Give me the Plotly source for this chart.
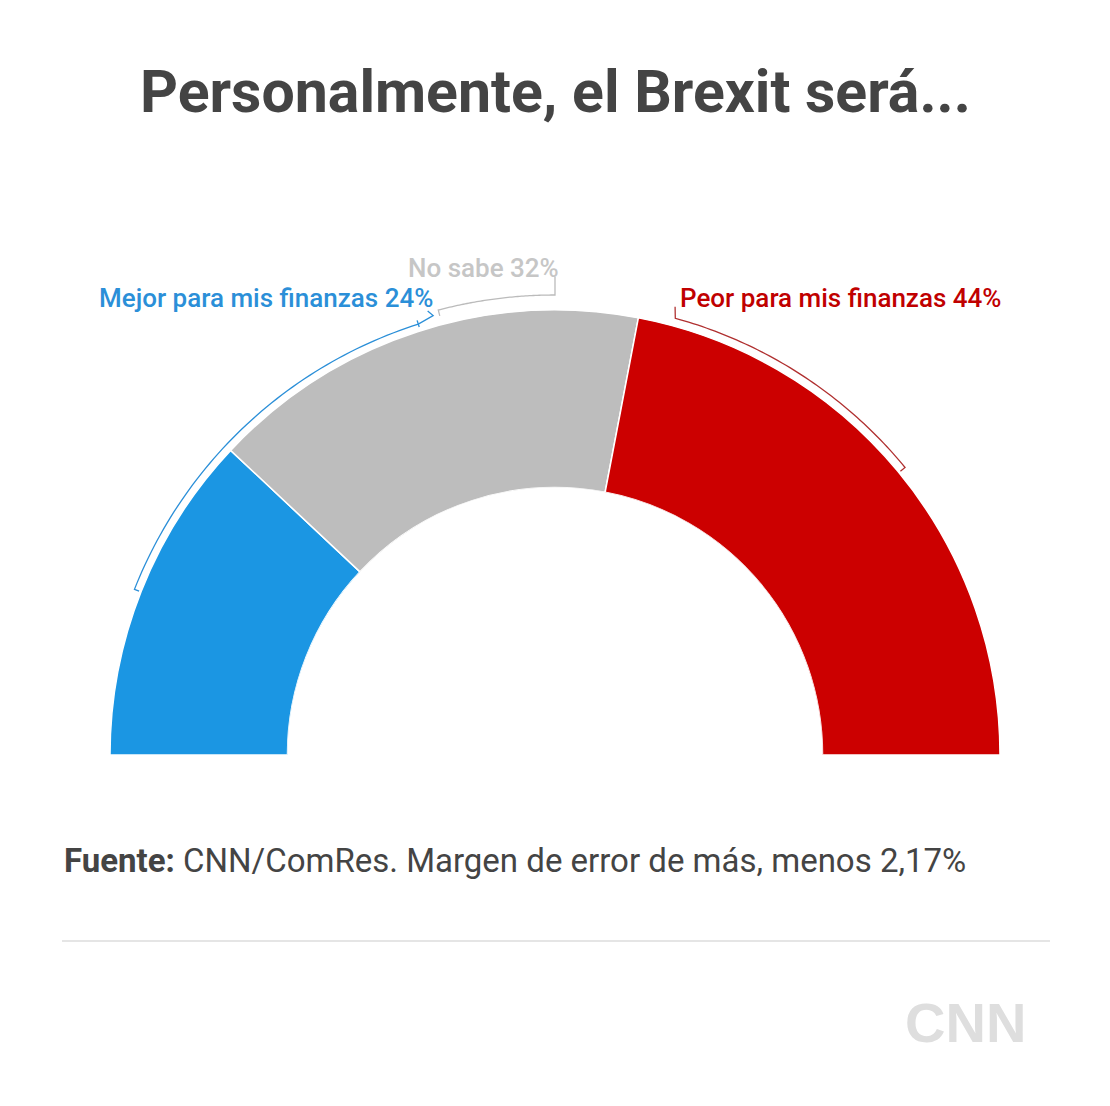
import plotly.graph_objects as go

# ---- data ----
categories = ["Mejor para mis finanzas", "No sabe", "Peor para mis finanzas"]
values = [24, 32, 44]
colors = ["#1b96e3", "#bdbdbd", "#cc0000"]
label_colors = ["#2b8fd8", "#c6c6c6", "#c00000"]
title_text = "Personalmente, el Brexit será..."
source_bold = "Fuente:"
source_text = "CNN/ComRes. Margen de error de más, menos 2,17%"

OFF = 8                      # page body margin
W, H = 1110 - OFF, 1106 - OFF
CX, CY = 555 - OFF, 755 - OFF   # centre of the half donut (px)
R_IN, R_OUT = 267.5, 445        # bar inner/outer radius (px)
R_PLOT = 485                    # polar area radius (room for brackets)
HOLE = R_IN / R_PLOT
RMAX = (R_PLOT - R_IN) / (R_OUT - R_IN)

def px_to_r(px):
    return (px - R_IN) / (R_OUT - R_IN)

total = sum(values)
deg = [v / total * 180 for v in values]
starts = [sum(deg[:i]) for i in range(len(deg))]
centers = [s + d / 2 for s, d in zip(starts, deg)]

fig = go.Figure()
fig.add_trace(go.Barpolar(
    r=[1] * len(values), theta=centers, width=deg,
    marker=dict(color=colors, line=dict(color="white", width=1.5)),
    hoverinfo="skip", showlegend=False,
))

def bracket(pts, color):
    fig.add_trace(go.Scatterpolar(
        r=[px_to_r(p[0]) for p in pts], theta=[p[1] for p in pts],
        mode="lines", line=dict(color=color, width=1.3),
        hoverinfo="skip", showlegend=False,
    ))

def arc(r_px, a0, a1, n=60):
    return [(r_px, a0 + (a1 - a0) * i / n) for i in range(n + 1)]

# blue
bracket([(447, 21.5)] + arc(452, 21.5, 72.4) + [(456, 74.5), (462, 74.0)], label_colors[0])
bracket([(456, 72.4), (449, 72.4)], label_colors[0])
# gray
bracket([(454, 75.3)] + arc(460, 75.3, 90) + [(478, 90)], "#bbbbbb")
# red
bracket([(464, 105.0), (453, 105.4)] + arc(453, 105.4, 140.6) + [(447, 140.6)], "#b03030")

fig.update_layout(
    width=W, height=H,
    margin=dict(l=0, r=0, t=0, b=0),
    paper_bgcolor="white",
    polar=dict(
        domain=dict(x=[(CX - R_PLOT) / W, (CX + R_PLOT) / W],
                    y=[(H - CY) / H, (H - CY + R_PLOT) / H]),
        sector=[0, 180], hole=HOLE, bgcolor="white",
        radialaxis=dict(visible=False, range=[0, RMAX]),
        angularaxis=dict(visible=False, direction="clockwise", rotation=180),
    ),
    font=dict(family="Roboto"),
)

def px(xpx):
    return (xpx - OFF) / W

def py(ypx):
    return 1 - (ypx - OFF) / H

ann = [
    dict(text=f"<b>{title_text}</b>", x=px(555), y=py(92), xanchor="center",
         font=dict(size=59, color="#444444")),
    dict(text=f"{categories[0]} {values[0]}%", x=px(97), y=py(298), xanchor="left",
         font=dict(size=26, color=label_colors[0], weight=500)),
    dict(text=f"{categories[1]} {values[1]}%", x=px(406), y=py(268), xanchor="left",
         font=dict(size=26, color=label_colors[1], weight=500)),
    dict(text=f"{categories[2]} {values[2]}%", x=px(678), y=py(298), xanchor="left",
         font=dict(size=26, color=label_colors[2], weight=500)),
    dict(text=f"<b>{source_bold}</b> {source_text}", x=px(62), y=py(860), xanchor="left",
         font=dict(size=33, color="#444444")),
    dict(text="<b>CNN</b>", x=px(965), y=py(1022), xanchor="center",
         font=dict(size=56, color="#dedede", family="Liberation Sans")),
]
for a in ann:
    a.update(xref="paper", yref="paper", yanchor="middle", showarrow=False)
fig.update_layout(annotations=ann)

fig.add_shape(type="line", xref="paper", yref="paper",
              x0=px(62), x1=px(1050), y0=py(941), y1=py(941),
              line=dict(color="#dddddd", width=1.5))

fig.write_html("out.html")
